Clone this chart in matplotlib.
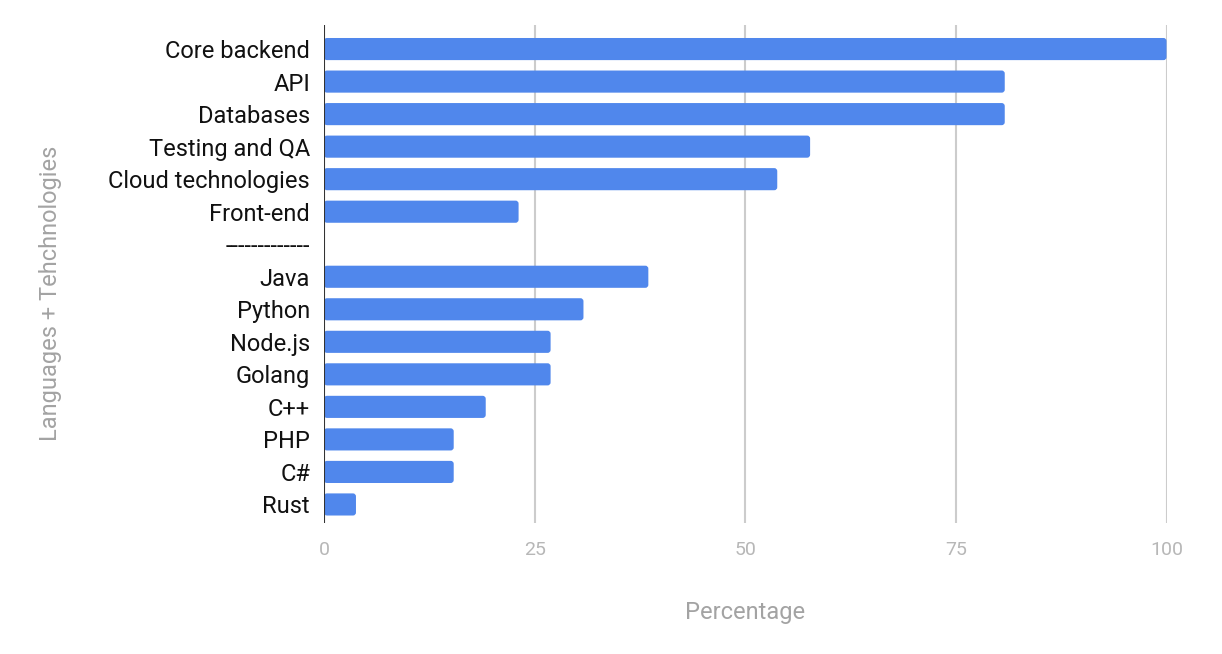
import matplotlib
matplotlib.use("Agg")
import matplotlib.pyplot as plt
from matplotlib.patches import FancyBboxPatch

categories = [
    "Core backend", "API", "Databases", "Testing and QA", "Cloud technologies",
    "Front-end", "-------------", "Java", "Python", "Node.js", "Golang",
    "C++", "PHP", "C#", "Rust",
]
percentages = [
    100.0, 80.8, 80.8, 57.7, 53.8,
    23.1, 0.0, 38.5, 30.8, 26.9, 26.9,
    19.2, 15.4, 15.4, 3.8,
]
x_ticks = [0, 25, 50, 75, 100]

BAR_COLOR = "#5087ec"
TICK_GRAY = "#b7b7b7"
LABEL_GRAY = "#a3a3a3"

plt.rcParams["font.family"] = ["Roboto", "DejaVu Sans"]

fig = plt.figure(figsize=(12.22, 6.54), dpi=100)
ax = fig.add_axes([0.2651, 0.2003, 0.6895, 0.7615])

bar_h = 0.68
for i, v in enumerate(percentages):
    if v <= 0:
        continue
    patch = FancyBboxPatch(
        (0, i - bar_h / 2), v, bar_h,
        boxstyle="round,pad=0,rounding_size=0.36",
        mutation_aspect=0.26,
        facecolor=BAR_COLOR, edgecolor="none", zorder=3,
    )
    ax.add_patch(patch)

ax.set_xlim(0, 100)
ax.set_ylim(14.57, -0.74)
ax.set_xticks(x_ticks)
ax.set_xticklabels([str(t) for t in x_ticks], color=TICK_GRAY, fontsize=14)
ax.set_yticks(range(len(categories)))
ax.set_yticklabels(categories, fontsize=17, color="#111111")
ax.tick_params(axis="both", length=0)
ax.tick_params(axis="x", pad=13)
ax.tick_params(axis="y", pad=10)

for t in x_ticks[1:]:
    ax.axvline(t, color="#cccccc", linewidth=1.5, zorder=1)
ax.axvline(0, color="#333333", linewidth=1.5, zorder=4)

for s in ax.spines.values():
    s.set_visible(False)

ax.set_xlabel("Percentage", color=LABEL_GRAY, fontsize=17, labelpad=30)
ax.set_ylabel("Languages + Tehchnologies", color=LABEL_GRAY, fontsize=17)
ax.yaxis.set_label_coords(-0.311, 0.462)

fig.savefig("out.png", dpi=100)
